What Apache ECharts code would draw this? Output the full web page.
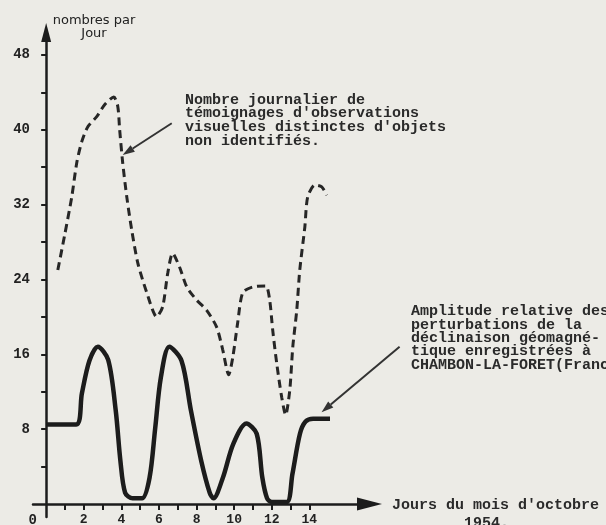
<!DOCTYPE html>
<html>
<head>
<meta charset="utf-8">
<script src="https://cdn.jsdelivr.net/npm/echarts@6/dist/echarts.min.js"></script>
<style>
  html, body { margin: 0; padding: 0; background: #ecebe6; }
  #chart { width: 606px; height: 525px; }
</style>
</head>
<body>
<div id="chart"></div>
<script>
// jours d'octobre 1954 / amplitude de la déclinaison (trait plein)
const days = [0, 1.6, 1.9, 2.3, 2.75, 3.3, 3.7, 3.95, 4.2, 4.6, 5.1, 5.5, 5.8, 6.1, 6.55, 7.2, 7.7, 8.25, 8.7, 8.9, 9.4, 9.95, 10.65, 11.2, 11.5, 11.75, 12.0, 12.8, 13.1, 13.5, 13.8, 14.2, 15.1]
const declinaison = [8.5, 8.5, 11.8, 15.3, 16.8, 15.4, 10, 4.6, 1.2, 0.6, 0.6, 2.8, 8.1, 13.5, 16.8, 15.3, 10, 4.6, 1.2, 0.6, 2.8, 6.4, 8.6, 7.5, 2.8, 0.6, 0.2, 0.2, 3.2, 7.5, 8.8, 9.1, 9.1]

// observations journalières (pointillé)
const obsDays = [0.62, 0.99, 1.36, 1.63, 1.89, 2.21, 2.69, 3.12, 3.6, 3.81, 3.91, 4.07, 4.29, 4.55, 4.87, 5.35, 5.88, 6.2, 6.47, 6.73, 7.1, 7.48, 8.0, 8.54, 9.07, 9.39, 9.71, 9.93, 10.19, 10.46, 11.0, 11.68, 11.89, 12.05, 12.26, 12.53, 12.74, 12.96, 13.12, 13.33, 13.49, 13.76, 13.91, 14.29, 14.66, 14.93]
const observations = [25, 28.8, 32.8, 36.5, 38.7, 40.3, 41.4, 42.7, 43.5, 42.5, 40, 36.5, 32.8, 29.3, 25.8, 22.6, 20, 21.1, 24.7, 26.8, 25.3, 23.2, 21.8, 20.7, 18.9, 16.5, 13.8, 15.7, 19.4, 22.6, 23.2, 23.3, 21.8, 18.6, 15.1, 11.4, 9.5, 12.2, 16.8, 20.7, 25, 29.6, 32.8, 34.1, 33.9, 33]

const xTickLabels = [0, 2, 4, 6, 8, 10, 12, 14]
const xTicks = [1, 2, 3, 4, 5, 6, 7, 8, 9, 10, 11, 12, 13, 14]
const yTickLabels = [8, 16, 24, 32, 40, 48]
const yTicks = [4, 8, 12, 16, 20, 24, 28, 32, 36, 40, 44, 48]

// flèches des légendes (coordonnées jour / valeur)
const pointers = [
  { from: [6.68, 40.7], to: [4.07, 37.3] },
  { from: [18.8, 16.8], to: [14.65, 9.8] }
]

const ink = '#1c1c1c'
const mono = '"Liberation Mono", "DejaVu Sans Mono", monospace'
const note = 'bold 15px ' + mono

function zip(xs, ys) {
  return xs.map((x, i) => [x, ys[i]])
}

const chart = echarts.init(document.getElementById('chart'))

chart.setOption({
  animation: false,
  backgroundColor: '#ecebe6',
  grid: {
    left: 33,
    right: 236.5,
    top: 32.5,
    bottom: 8,
    outerBoundsMode: 'none'
  },
  xAxis: {
    type: 'value',
    min: -0.7,
    max: 17.2,
    splitLine: { show: false },
    axisLine: {
      onZero: true,
      symbol: ['none', 'triangle'],
      symbolSize: [13, 25],
      lineStyle: { color: ink, width: 2.5 }
    },
    axisTick: {
      customValues: xTicks,
      length: 6,
      lineStyle: { color: ink, width: 2 }
    },
    axisLabel: {
      customValues: xTickLabels,
      margin: -4,
      color: '#222',
      fontFamily: mono,
      fontWeight: 'bold',
      fontSize: 13,
      formatter: v => (v === 0 ? '{z|0}' : String(v)),
      rich: {
        z: { padding: [0, 27, 0, 0], fontFamily: mono, fontWeight: 'bold', fontSize: 14, color: '#222' }
      }
    }
  },
  yAxis: {
    type: 'value',
    min: -1.4,
    max: 50.4,
    splitLine: { show: false },
    axisLine: {
      onZero: true,
      symbol: ['none', 'triangle'],
      symbolSize: [10, 19],
      lineStyle: { color: ink, width: 2.5 }
    },
    axisTick: {
      customValues: yTicks,
      length: 5,
      lineStyle: { color: ink, width: 2 }
    },
    axisLabel: {
      customValues: yTickLabels,
      margin: 3,
      color: '#222',
      fontFamily: mono,
      fontWeight: 'bold',
      fontSize: 14
    }
  },
  series: [
    {
      name: 'Amplitude',
      type: 'line',
      data: zip(days, declinaison),
      smooth: 0.3,
      showSymbol: false,
      silent: true,
      lineStyle: { color: ink, width: 4.5 }
    },
    {
      name: 'Observations',
      type: 'line',
      data: zip(obsDays, observations),
      smooth: 0.25,
      showSymbol: false,
      silent: true,
      lineStyle: { color: '#262626', width: 3, type: [8, 5] }
    }
  ]
})

const graphics = [
  {
    id: 'axisName',
    type: 'text',
    x: 94,
    y: 14,
    style: {
      text: 'nombres par\nJour',
      font: '13px "DejaVu Sans", sans-serif',
      fill: '#222',
      align: 'center',
      verticalAlign: 'top',
      lineHeight: 13
    }
  },
  {
    id: 'note1',
    type: 'text',
    x: 185,
    y: 93,
    style: {
      text: 'Nombre journalier de\ntémoignages d\'observations\nvisuelles distinctes d\'objets\nnon identifiés.',
      font: note,
      fill: '#2a2a2a',
      lineHeight: 13.7,
      verticalAlign: 'top'
    }
  },
  {
    id: 'note2',
    type: 'text',
    x: 411,
    y: 305,
    style: {
      text: 'Amplitude relative des\nperturbations de la\ndéclinaison géomagné-\ntique enregistrées à\nCHAMBON-LA-FORET(France)',
      font: note,
      fill: '#2a2a2a',
      lineHeight: 13.3,
      verticalAlign: 'top'
    }
  },
  {
    id: 'note3',
    type: 'text',
    x: 392,
    y: 496,
    style: {
      text: 'Jours du mois d\'octobre\n        1954.',
      font: note,
      fill: '#2a2a2a',
      lineHeight: 18,
      verticalAlign: 'top'
    }
  }
]

// flèches : placées via l'échelle du graphique
pointers.forEach((p, i) => {
  const a = chart.convertToPixel({ gridIndex: 0 }, p.from)
  const b = chart.convertToPixel({ gridIndex: 0 }, p.to)
  const dx = b[0] - a[0]
  const dy = b[1] - a[1]
  const len = Math.sqrt(dx * dx + dy * dy)
  const ux = dx / len
  const uy = dy / len
  const bx = b[0] - ux * 12
  const by = b[1] - uy * 12
  graphics.push({
    id: 'arrowLine' + i,
    type: 'line',
    shape: { x1: a[0], y1: a[1], x2: bx, y2: by },
    style: { stroke: '#333', lineWidth: 2 }
  })
  graphics.push({
    id: 'arrowHead' + i,
    type: 'polygon',
    shape: {
      points: [
        [b[0], b[1]],
        [bx - uy * 4, by + ux * 4],
        [bx + uy * 4, by - ux * 4]
      ]
    },
    style: { fill: '#333' }
  })
})
chart.setOption({ graphic: graphics })
</script>
</body>
</html>
